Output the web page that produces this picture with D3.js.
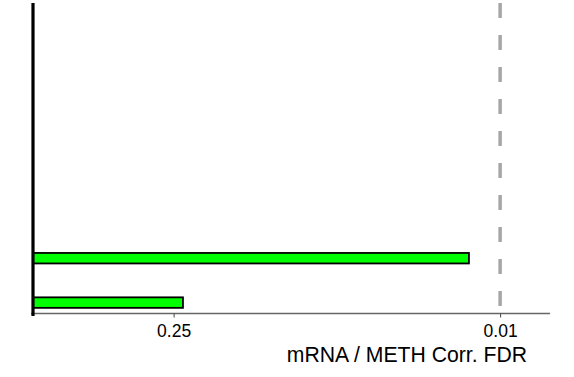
<!DOCTYPE html>
<html>
<head>
<meta charset="utf-8">
<script src="https://cdn.jsdelivr.net/npm/d3@7"></script>
<style>
html,body{margin:0;padding:0;background:#fff;}
svg{display:block;font-family:Arial,"Liberation Sans",sans-serif;}
</style>
</head>
<body>
<script>
const categories = ["gene1", "gene2"];
const fdrValues = [0.228, 0.0136];
const tickValues = [0.25, 0.01];
const tickLabels = ["0.25", "0.01"];
const thresholdFDR = 0.01;
const axisTitle = "mRNA / METH Corr. FDR";

const W = 574, H = 377;
const svg = d3.select("body").append("svg").attr("width", W).attr("height", H);

const x0 = 33, axisY = 313.5;
const x = d3.scaleLinear().domain([0, 2.205]).range([x0, 548]);
const fx = f => x(-Math.log10(f));
const y = d3.scalePoint().domain(categories).range([302.6, 258.2]);
const barH = 10.5;

// x axis
const axis = d3.axisBottom(x)
  .tickValues(tickValues.map(v => -Math.log10(v)))
  .tickFormat((d, i) => tickLabels[i])
  .tickSize(4).tickSizeOuter(0);
const g = svg.append("g").attr("transform", `translate(0,${axisY})`).call(axis);
g.attr("font-size", 17.5).attr("font-family", "Arial, 'Liberation Sans', sans-serif");
g.select(".domain").attr("d", `M31,0H550`).attr("stroke", "#666").attr("stroke-width", 1.5);
g.selectAll(".tick line").attr("stroke", "#444").attr("stroke-width", 1);
g.selectAll(".tick text").attr("fill", "#000").attr("y", 23).attr("dy", 0);

// threshold dashed line
svg.append("line")
  .attr("x1", fx(thresholdFDR)).attr("x2", fx(thresholdFDR))
  .attr("y1", 3).attr("y2", 306)
  .attr("stroke", "#a6a6a6").attr("stroke-width", 3.5)
  .attr("stroke-dasharray", "15,17").attr("stroke-linecap", "butt");

// bars
svg.selectAll("rect.bar").data(categories).enter().append("rect")
  .attr("class", "bar")
  .attr("x", x0)
  .attr("y", d => y(d) - barH / 2)
  .attr("width", (d, i) => fx(fdrValues[i]) - x0)
  .attr("height", barH)
  .attr("fill", "#00ff00").attr("stroke", "#000").attr("stroke-width", 1.8);

// vertical zero line
svg.append("line")
  .attr("x1", x0).attr("x2", x0).attr("y1", 3).attr("y2", 316)
  .attr("stroke", "#000").attr("stroke-width", 3.2);

// axis title
svg.append("text")
  .attr("x", 527).attr("y", 361.5)
  .attr("text-anchor", "end")
  .attr("font-size", 21.2).attr("fill", "#000")
  .text(axisTitle);
</script>
</body>
</html>
